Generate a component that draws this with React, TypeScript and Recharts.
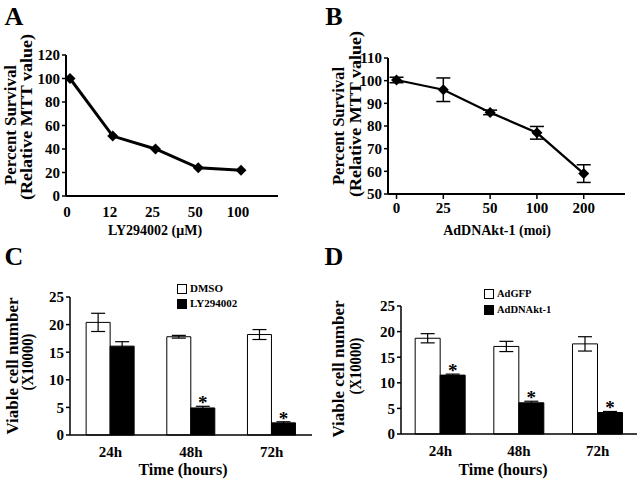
import React from 'react';
import { LineChart, Line, BarChart, Bar, XAxis, YAxis, ErrorBar, Legend, LabelList } from 'recharts';

const FONT = "'Liberation Serif', 'Times New Roman', serif";

// Panel A
const doseLabels = ['0', '12', '25', '50', '100'];
const survivalA = [100, 51, 40, 24, 22];
// Panel B
const moiLabels = ['0', '25', '50', '100', '200'];
const survivalB = [100.3, 96, 86, 77, 59];
const survivalBErr = [1.2, 5.2, 1.0, 2.8, 3.9];
// Panel C
const timeLabels = ['24h', '48h', '72h'];
const dmso = [20.4, 17.8, 18.2];
const dmsoErr = [1.65, 0.25, 0.9];
const ly = [16.1, 4.9, 2.2];
const lyErr = [0.8, 0.3, 0.2];
const sigC = [false, true, true];
// Panel D
const adgfp = [18.7, 17.1, 17.6];
const adgfpErr = [0.9, 1.0, 1.4];
const addn = [11.5, 6.1, 4.2];
const addnErr = [0.2, 0.3, 0.2];
const sigD = [true, true, true];

const seriesC = [
  { key: 'a', name: 'DMSO', fill: '#ffffff' },
  { key: 'b', name: 'LY294002', fill: '#000000' },
];
const seriesD = [
  { key: 'a', name: 'AdGFP', fill: '#ffffff' },
  { key: 'b', name: 'AdDNAkt-1', fill: '#000000' },
];

const dataA = doseLabels.map((label, i) => ({ i, label, v: survivalA[i] }));
const dataB = moiLabels.map((label, i) => ({ i, label, v: survivalB[i], e: survivalBErr[i] }));
const dataC = timeLabels.map((t, i) => ({ t, a: dmso[i], ae: dmsoErr[i], b: ly[i], be: lyErr[i], sig: sigC[i] }));
const dataD = timeLabels.map((t, i) => ({ t, a: adgfp[i], ae: adgfpErr[i], b: addn[i], be: addnErr[i], sig: sigD[i] }));

const tickStyle = (size: number) => ({ fill: '#000', fontSize: size, fontWeight: 'bold' as const, fontFamily: FONT });

const Diamond = (props: any) => {
  const { cx, cy, index } = props;
  if (cx == null || cy == null) return <g key={`n${index}`} />;
  const r = 5.5;
  return <path key={`d${index}`} d={`M${cx},${cy - r}L${cx + r},${cy}L${cx},${cy + r}L${cx - r},${cy}Z`} fill="#000" />;
};

const makeStar = (rows: any[]) => (props: any) => {
  const { x, y, width, height, index } = props;
  const row = rows[index];
  if (!row || !row.sig) return null;
  const errPx = row.b > 0 ? (row.be / row.b) * height : 0;
  return (
    <text x={x + width / 2} y={y - errPx + 3} textAnchor="middle" fontSize={19} fontWeight="bold" fontFamily={FONT} fill="#000">*</text>
  );
};

const makeLegend = (items: { name: string; fill: string }[], fontSize: number, rowH: number) => () => (
  <div style={{ fontFamily: FONT, fontWeight: 'bold', fontSize, color: '#000' }}>
    {items.map((it) => (
      <div key={it.name} style={{ height: rowH, lineHeight: `${rowH}px`, whiteSpace: 'nowrap', display: 'flex', alignItems: 'center' }}>
        <span style={{ display: 'inline-block', width: 8, height: 8, border: '1px solid #000', background: it.fill, marginRight: 3 }} />
        <span>{it.name}</span>
      </div>
    ))}
  </div>
);

const axisStroke = { stroke: '#000', strokeWidth: 2 };

function PanelA() {
  return (
    <LineChart width={320} height={240} data={dataA} margin={{ top: 55, right: 42, bottom: 14, left: 36 }}>
      <XAxis
        type="number"
        dataKey="i"
        domain={[-0.094, 4.865]}
        ticks={[0, 1, 2, 3, 4]}
        allowDataOverflow
        height={30}
        axisLine={axisStroke}
        tickLine={false}
        tickSize={6}
        tickMargin={4}
        tick={(p: any) => (
          <text key={`ta${p.index}`} x={p.x - 3} y={p.y} dy="0.71em" textAnchor="middle" {...tickStyle(15)}>
            {doseLabels[p.payload.value]}
          </text>
        )}
      />
      <YAxis
        domain={[0, 120]}
        ticks={[0, 20, 40, 60, 80, 100, 120]}
        width={30}
        axisLine={axisStroke}
        tickLine={{ stroke: '#000', strokeWidth: 1.5 }}
        tickSize={4}
        tick={tickStyle(15)}
      />
      <Line dataKey="v" stroke="#000" strokeWidth={3} dot={Diamond} activeDot={false} isAnimationActive={false} />
    </LineChart>
  );
}

function PanelB() {
  return (
    <LineChart width={320} height={240} data={dataB} margin={{ top: 58, right: 15, bottom: 16, left: 38 }}>
      <XAxis
        type="number"
        dataKey="i"
        domain={[-0.182, 4.882]}
        ticks={[0, 1, 2, 3, 4]}
        allowDataOverflow
        height={30}
        axisLine={axisStroke}
        tickLine={{ stroke: '#000', strokeWidth: 1.5 }}
        tickSize={5}
        tickMargin={3}
        tickFormatter={(v: number) => moiLabels[v]}
        tick={tickStyle(15)}
      />
      <YAxis
        domain={[50, 110]}
        ticks={[50, 60, 70, 80, 90, 100, 110]}
        width={30}
        axisLine={axisStroke}
        tickLine={{ stroke: '#000', strokeWidth: 1.5 }}
        tickSize={4}
        tick={tickStyle(15)}
      />
      <Line dataKey="v" stroke="#000" strokeWidth={2.2} dot={Diamond} activeDot={false} isAnimationActive={false}>
        <ErrorBar dataKey="e" width={7} stroke="#000" strokeWidth={1.5} direction="y" />
      </Line>
    </LineChart>
  );
}

function BarPanel(props: { data: any[]; series: { key: string; name: string; fill: string }[]; margin: any; gap: string; legendPos: { left: number; top: number }; legendFont: number; legendRow: number }) {
  const { data, series, margin, gap, legendPos, legendFont, legendRow } = props;
  return (
    <BarChart width={320} height={240} data={data} margin={margin} barCategoryGap={gap} barGap={0}>
      <XAxis
        xAxisId="sep"
        type="number"
        domain={[0, 3]}
        ticks={[1, 2, 3]}
        allowDataOverflow
        height={0}
        axisLine={false}
        tick={false}
        tickLine={{ stroke: '#000', strokeWidth: 1.5 }}
        tickSize={4}
      />
      <XAxis
        dataKey="t"
        height={30}
        axisLine={{ stroke: '#000', strokeWidth: 1.5 }}
        tickLine={false}
        tickSize={6}
        tickMargin={5}
        tick={tickStyle(15)}
      />
      <YAxis
        domain={[0, 25]}
        ticks={[0, 5, 10, 15, 20, 25]}
        width={30}
        axisLine={{ stroke: '#000', strokeWidth: 1.5 }}
        tickLine={{ stroke: '#000', strokeWidth: 1.5 }}
        tickSize={4}
        tick={tickStyle(15)}
      />
      <Legend
        layout="vertical"
        align="center"
        verticalAlign="middle"
        content={makeLegend(series, legendFont, legendRow)}
        wrapperStyle={{ left: legendPos.left, top: legendPos.top, width: 120, height: legendRow * 2 }}
      />
      <Bar dataKey="a" name={series[0].name} fill={series[0].fill} stroke="#000" strokeWidth={1} isAnimationActive={false}>
        <ErrorBar dataKey="ae" width={7} stroke="#000" strokeWidth={1.2} direction="y" />
      </Bar>
      <Bar dataKey="b" name={series[1].name} fill={series[1].fill} stroke="#000" strokeWidth={1} isAnimationActive={false}>
        <ErrorBar dataKey="be" width={7} stroke="#000" strokeWidth={1.2} direction="y" />
        <LabelList dataKey="b" content={makeStar(data)} />
      </Bar>
    </BarChart>
  );
}

const TitleText = ({ x, y, size, rotate, len, children }: any) => (
  <text
    transform={rotate ? `translate(${x},${y}) rotate(-90)` : undefined}
    x={rotate ? 0 : x}
    y={rotate ? 0 : y}
    textAnchor="middle"
    fontFamily={FONT}
    fontWeight="bold"
    fontSize={size}
    fill="#000"
    textLength={len}
    lengthAdjust={len ? 'spacingAndGlyphs' : undefined}
  >
    {children}
  </text>
);

export default function App() {
  return (
    <div style={{ position: 'absolute', left: 0, top: 0, width: 640, height: 480, background: '#fff', overflow: 'hidden' }}>
      <div style={{ position: 'absolute', left: 0, top: 0 }}><PanelA /></div>
      <div style={{ position: 'absolute', left: 320, top: 0 }}><PanelB /></div>
      <div style={{ position: 'absolute', left: 0, top: 240 }}>
        <BarPanel data={dataC} series={seriesC} margin={{ top: 57, right: 8, bottom: 15, left: 40 }} gap="20%" legendPos={{ left: 177, top: 41 }} legendFont={11} legendRow={15} />
      </div>
      <div style={{ position: 'absolute', left: 320, top: 240 }}>
        <BarPanel data={dataD} series={seriesD} margin={{ top: 66, right: 3, bottom: 16, left: 51 }} gap="18%" legendPos={{ left: 164, top: 46 }} legendFont={10.5} legendRow={16} />
      </div>
      <svg width={640} height={480} style={{ position: 'absolute', left: 0, top: 0, pointerEvents: 'none' }}>
        <TitleText x={14} y={25} size={26}>A</TitleText>
        <TitleText x={334} y={25} size={26}>B</TitleText>
        <TitleText x={14} y={265} size={26}>C</TitleText>
        <TitleText x={334} y={265} size={26}>D</TitleText>

        <TitleText x={16} y={125} size={17} len={120} rotate>Percent Survival</TitleText>
        <TitleText x={32} y={117} size={17} len={166} rotate>(Relative MTT value)</TitleText>
        <TitleText x={155} y={235} size={14}>LY294002 (μM)</TitleText>

        <TitleText x={344} y={126} size={17} len={118} rotate>Percent Survival</TitleText>
        <TitleText x={361} y={114} size={17} len={166} rotate>(Relative MTT value)</TitleText>
        <TitleText x={497} y={235} size={14}>AdDNAkt-1 (moi)</TitleText>

        <TitleText x={18} y={366} size={17} len={137} rotate>Viable cell number</TitleText>
        <TitleText x={33} y={362} size={17} len={57} rotate>(X10000)</TitleText>
        <TitleText x={183} y={475} size={16}>Time (hours)</TitleText>

        <TitleText x={344} y={369} size={17} len={137} rotate>Viable cell number</TitleText>
        <TitleText x={361} y={366} size={17} len={57} rotate>(X10000)</TitleText>
        <TitleText x={503} y={475} size={16}>Time (hours)</TitleText>
      </svg>
    </div>
  );
}
